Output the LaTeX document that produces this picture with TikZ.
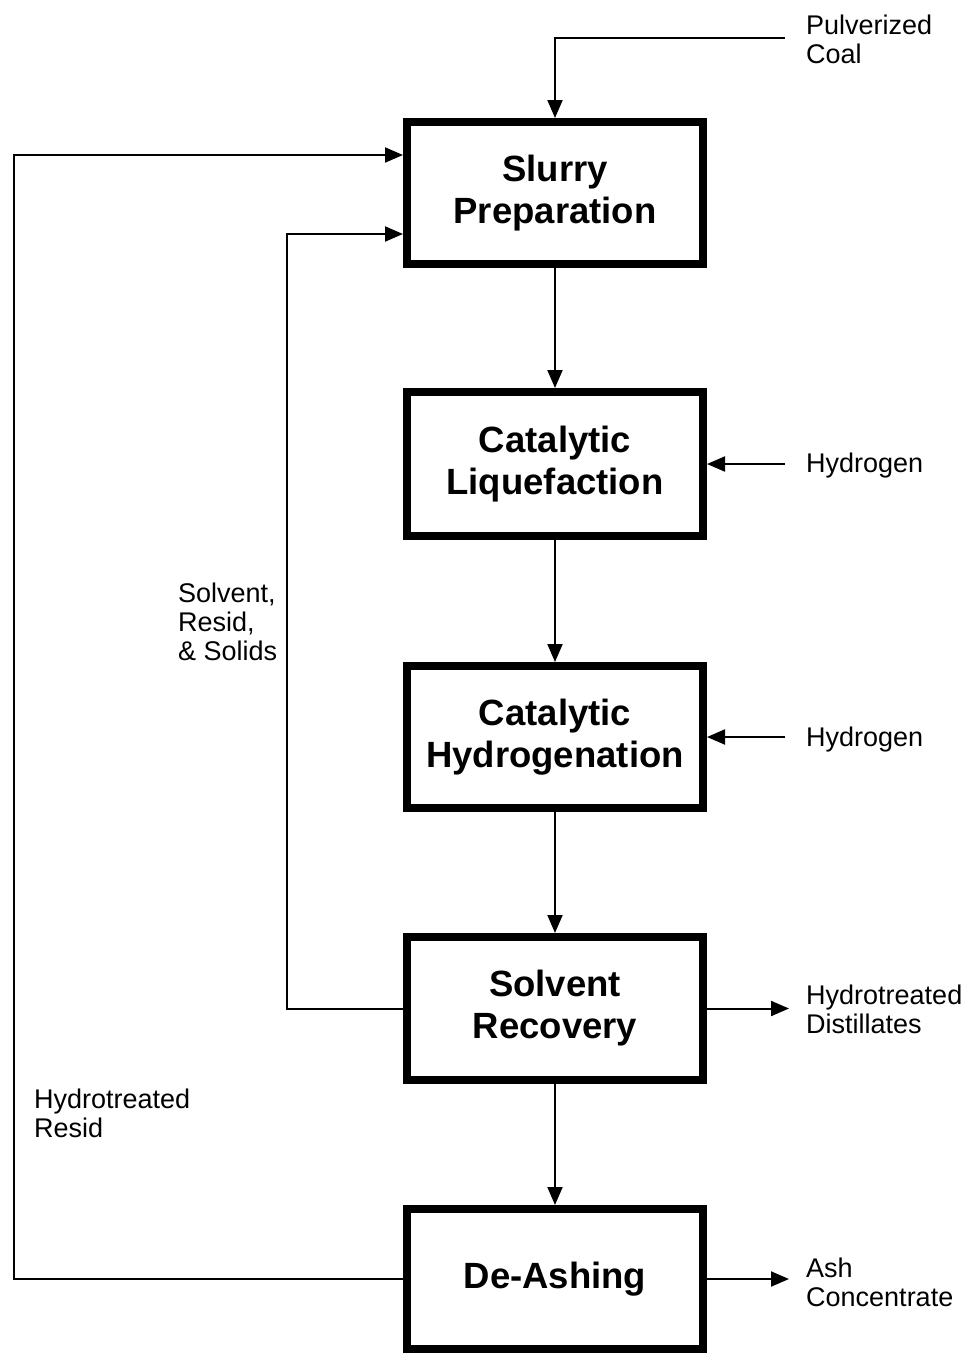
\documentclass[tikz,border=0pt]{standalone}
\usepackage{fontspec}
\setmainfont{Liberation Sans}
\usetikzlibrary{arrows.meta}
\begin{document}
\begin{tikzpicture}[x=1pt,y=-1pt,
  stagebox/.style={draw, line width=8pt, minimum width=296pt, minimum height=142pt, inner sep=0pt, align=center, font=\bfseries\fontsize{36.5}{42}\selectfont},
  lbl/.style={anchor=west, inner sep=0pt, align=left, font=\fontsize{27}{29}\selectfont},
  flow/.style={line width=2pt, -{Triangle[length=18pt,width=15pt]}},
  plain/.style={line width=2pt}]
\useasboundingbox (0,0) rectangle (971,1353);
\fill[white] (0,0) rectangle (971,1353);

\node[stagebox] (slurry) at (555,193) {Slurry\\Preparation};
\node[stagebox, minimum height=144pt] (liq) at (555,464) {Catalytic\\Liquefaction};
\node[stagebox] (hyd) at (555,737) {Catalytic\\Hydrogenation};
\node[stagebox, minimum height=143pt] (solv) at (555,1008.5) {Solvent\\Recovery};
\node[stagebox, minimum height=140pt] (deash) at (555,1279) {De-Ashing};

\node[lbl] (coal) at (806,39) {Pulverized\\Coal};
\node[lbl] (h1) at (806,466) {Hydrogen};
\node[lbl] (h2) at (806,740) {Hydrogen};
\node[lbl] (dist) at (806,1009) {Hydrotreated\\Distillates};
\node[lbl] (ash) at (806,1282) {Ash\\Concentrate};
\node[lbl] (ssr) at (178,622) {Solvent,\\Resid,\\\& Solids};
\node[lbl] (hr) at (34,1113) {Hydrotreated\\Resid};

\coordinate (coalin) at (785,38);
\coordinate (h1in) at (785,464);
\coordinate (h2in) at (785,737);
\coordinate (distout) at (789,1008.5);
\coordinate (ashout) at (789,1279);
\coordinate (innerx) at (287,0);
\coordinate (outerx) at (14,0);

\draw[flow] (coalin) -| (slurry.north);
\draw[flow] (slurry) -- (liq);
\draw[flow] (liq) -- (hyd);
\draw[flow] (hyd) -- (solv);
\draw[flow] (solv) -- (deash);
\draw[flow] (h1in) -- (liq.east);
\draw[flow] (h2in) -- (hyd.east);
\draw[flow] (solv.east) -- (distout);
\draw[flow] (deash.east) -- (ashout);
\draw[flow] (solv.west) -- (solv.west -| innerx) |- ([yshift=-41pt]slurry.west);
\draw[flow] (deash.west) -- (deash.west -| outerx) |- ([yshift=38pt]slurry.west);
\end{tikzpicture}
\end{document}
